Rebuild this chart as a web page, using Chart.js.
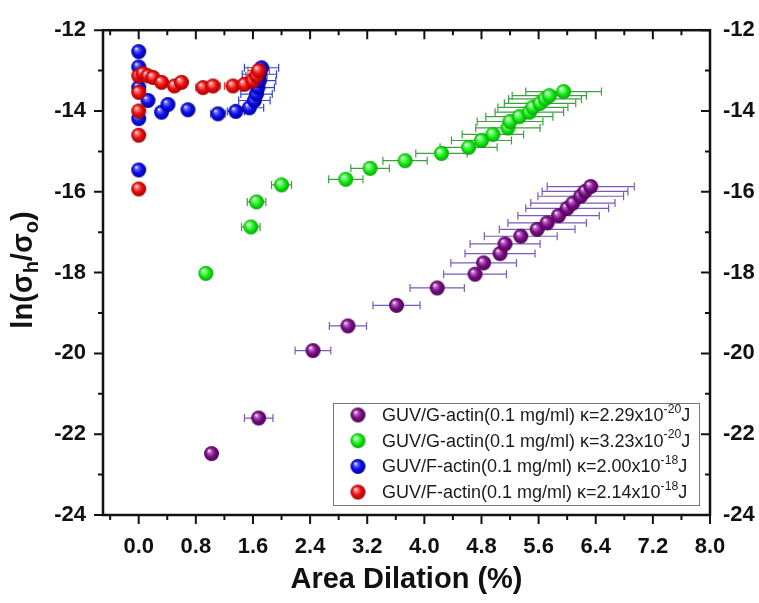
<!DOCTYPE html>
<html>
<head>
<meta charset="utf-8">
<script src="https://cdn.jsdelivr.net/npm/chart.js@4.4.1/dist/chart.umd.min.js"></script>
<style>
  html, body { margin: 0; padding: 0; background: #fff; }
  #wrap { width: 759px; height: 603px; }
</style>
</head>
<body>
<div id="wrap"><canvas id="chart" width="759" height="603"></canvas></div>
<script>
// GUV / G-actin, kappa = 2.29e-20 J (purple)
const gActinAX   = [1.02, 1.68, 2.44, 2.93, 3.61, 4.18, 4.71, 4.83, 5.06, 5.13, 5.35, 5.58, 5.72, 5.88, 6.00, 6.08, 6.19, 6.25, 6.33];
const gActinAY   = [-22.48, -21.6, -19.93, -19.32, -18.81, -18.38, -18.04, -17.76, -17.53, -17.29, -17.10, -16.93, -16.77, -16.59, -16.41, -16.28, -16.11, -15.99, -15.87];
const gActinAErr = [0, 0.2, 0.25, 0.26, 0.33, 0.38, 0.44, 0.46, 0.49, 0.49, 0.51, 0.53, 0.55, 0.57, 0.58, 0.59, 0.60, 0.60, 0.61];

// GUV / G-actin, kappa = 3.23e-20 J (green)
const gActinBX   = [0.94, 1.57, 1.65, 2.0, 2.9, 3.24, 3.73, 4.24, 4.62, 4.8, 4.96, 5.17, 5.2, 5.33, 5.47, 5.52, 5.62, 5.69, 5.75, 5.95];
const gActinBY   = [-18.02, -16.87, -16.25, -15.83, -15.69, -15.42, -15.23, -15.05, -14.9, -14.73, -14.58, -14.42, -14.26, -14.14, -14.03, -13.91, -13.81, -13.70, -13.62, -13.52];
const gActinBErr = [0, 0.13, 0.13, 0.14, 0.24, 0.27, 0.31, 0.36, 0.40, 0.42, 0.43, 0.45, 0.46, 0.47, 0.48, 0.49, 0.50, 0.51, 0.52, 0.53];

// GUV / F-actin, kappa = 2.00e-18 J (blue)
const fActinAX   = [0, 0, 0, 0.13, 0, 0, 0.32, 0.41, 0.69, 1.11, 1.36, 1.55, 1.62, 1.65, 1.67, 1.69, 1.69, 1.72];
const fActinAY   = [-12.53, -12.91, -13.42, -13.74, -14.19, -15.46, -14.03, -13.84, -13.97, -14.07, -14.01, -13.92, -13.74, -13.58, -13.42, -13.25, -13.09, -12.93];
const fActinAErr = [0, 0, 0, 0, 0, 0, 0, 0, 0, 0.1, 0.12, 0.2, 0.22, 0.22, 0.23, 0.23, 0.24, 0.24];

// GUV / F-actin, kappa = 2.14e-18 J (red)
const fActinBX   = [0, 0, 0, 0, 0, 0.06, 0.13, 0.2, 0.32, 0.5, 0.6, 0.9, 1.04, 1.32, 1.48, 1.6, 1.65, 1.68];
const fActinBY   = [-15.93, -14.6, -14.0, -13.54, -13.13, -13.07, -13.13, -13.17, -13.29, -13.38, -13.29, -13.42, -13.38, -13.38, -13.34, -13.25, -13.13, -13.0];
const fActinBErr = [0.03, 0.03, 0.03, 0.03, 0.03, 0.05, 0.05, 0.05, 0.05, 0.05, 0.05, 0.1, 0.1, 0.12, 0.12, 0.15, 0.15, 0.15];

const seriesLabels = [
  'GUV/G-actin(0.1 mg/ml) \u03ba=2.29x10^{-20}J',
  'GUV/G-actin(0.1 mg/ml) \u03ba=3.23x10^{-20}J',
  'GUV/F-actin(0.1 mg/ml) \u03ba=2.00x10^{-18}J',
  'GUV/F-actin(0.1 mg/ml) \u03ba=2.14x10^{-18}J'
];

const xTicks = [0.0, 0.8, 1.6, 2.4, 3.2, 4.0, 4.8, 5.6, 6.4, 7.2, 8.0];
const xMinorTicks = [-0.4, 0.4, 1.2, 2.0, 2.8, 3.6, 4.4, 5.2, 6.0, 6.8, 7.6];
const yTicks = [-24, -22, -20, -18, -16, -14, -12];
const yMinorTicks = [-23, -21, -19, -17, -15, -13];

const FONT = '"Liberation Sans", Arial, sans-serif';

// shaded ball used as point style
function sphere(base, light, dark, r) {
  const c = document.createElement('canvas');
  const s = Math.ceil(r * 2 + 2);
  c.width = s; c.height = s;
  const g = c.getContext('2d');
  const cx = s / 2, cy = s / 2;
  const grad = g.createRadialGradient(cx - r * 0.35, cy - r * 0.4, r * 0.05, cx, cy, r);
  grad.addColorStop(0, '#ffffff');
  grad.addColorStop(0.18, light);
  grad.addColorStop(0.55, base);
  grad.addColorStop(1, dark);
  g.fillStyle = grad;
  g.beginPath();
  g.arc(cx, cy, r, 0, Math.PI * 2);
  g.fill();
  return c;
}

const balls = [
  sphere('#80108a', '#c070c8', '#4a0050', 7.5),
  sphere('#18f018', '#90ff90', '#08a008', 7.5),
  sphere('#1010f0', '#7070ff', '#00009a', 7.5),
  sphere('#f01010', '#ff8080', '#a00000', 7.5)
];
const barColors = ['#7a5cb8', '#3f9f3f', '#3344cc', '#e04848'];

function points(xs, ys) {
  return xs.map((x, i) => ({ x: x, y: ys[i] }));
}

const errs = [gActinAErr, gActinBErr, fActinAErr, fActinBErr];

// horizontal error bars, drawn beneath the balls
const errorBars = {
  id: 'errorBars',
  beforeDatasetsDraw(chart) {
    const { ctx, scales: { x, y } } = chart;
    ctx.save();
    ctx.lineWidth = 1.2;
    chart.data.datasets.forEach((ds, di) => {
      ctx.strokeStyle = barColors[di];
      ds.data.forEach((p, i) => {
        const e = errs[di][i];
        if (!e) return;
        const x0 = x.getPixelForValue(p.x - e);
        const x1 = x.getPixelForValue(p.x + e);
        const py = y.getPixelForValue(p.y);
        ctx.beginPath();
        ctx.moveTo(x0, py); ctx.lineTo(x1, py);
        ctx.moveTo(x0, py - 4); ctx.lineTo(x0, py + 4);
        ctx.moveTo(x1, py - 4); ctx.lineTo(x1, py + 4);
        ctx.stroke();
      });
    });
    ctx.restore();
  }
};

// box frame with major/minor ticks on all four sides
const frame = {
  id: 'frame',
  afterDraw(chart) {
    const { ctx, chartArea: a, scales: { x, y } } = chart;
    ctx.save();
    ctx.strokeStyle = '#111';
    ctx.lineWidth = 2;
    ctx.beginPath();
    xTicks.concat(xMinorTicks).forEach((v) => {
      const len = xTicks.includes(v) ? 9 : 5;
      const px = x.getPixelForValue(v);
      ctx.moveTo(px, a.bottom); ctx.lineTo(px, a.bottom + len);
      ctx.moveTo(px, a.top); ctx.lineTo(px, a.top + len);
    });
    yTicks.concat(yMinorTicks).forEach((v) => {
      const len = yTicks.includes(v) ? 9 : 5;
      const py = y.getPixelForValue(v);
      ctx.moveTo(a.left, py); ctx.lineTo(a.left - len, py);
      ctx.moveTo(a.right, py); ctx.lineTo(a.right - len, py);
    });
    ctx.stroke();
    ctx.lineWidth = 2.5;
    ctx.strokeRect(a.left, a.top, a.right - a.left, a.bottom - a.top);
    ctx.restore();
  }
};

// text with ^{...} superscripts
function drawRich(ctx, str, x, y, size) {
  const parts = str.split(/\^\{([^}]*)\}/);
  let cx = x;
  parts.forEach((t, i) => {
    if (!t) return;
    const sup = i % 2 === 1;
    ctx.font = (sup ? size * 0.68 : size) + 'px ' + FONT;
    ctx.fillText(t, cx, sup ? y - size * 0.38 : y);
    cx += ctx.measureText(t).width;
  });
}

const legendBox = {
  id: 'legendBox',
  afterDraw(chart) {
    const { ctx } = chart;
    const left = 333, top = 403, right = 699, bottom = 505;
    ctx.save();
    ctx.fillStyle = '#fff';
    ctx.fillRect(left, top, right - left, bottom - top);
    ctx.strokeStyle = '#777';
    ctx.lineWidth = 1;
    ctx.strokeRect(left + 0.5, top + 0.5, right - left, bottom - top);
    ctx.textBaseline = 'middle';
    ctx.fillStyle = '#1a1a1a';
    chart.data.datasets.forEach((ds, i) => {
      const ry = 415 + i * 25.7;
      ctx.drawImage(balls[i], 358 - balls[i].width / 2, ry - balls[i].height / 2);
      drawRich(ctx, ds.label, 382, ry + 1, 18);
    });
    ctx.restore();
  }
};

// rotated y title with subscripts
const yTitle = {
  id: 'yTitle',
  afterDraw(chart) {
    const { ctx } = chart;
    const size = 29, sub = 20;
    const pieces = [['ln(\u03c3', false], ['h', true], ['/\u03c3', false], ['o', true], [')', false]];
    ctx.save();
    let w = 0;
    pieces.forEach(([t, s]) => {
      ctx.font = 'bold ' + (s ? sub : size) + 'px ' + FONT;
      w += ctx.measureText(t).width;
    });
    ctx.translate(32, 270);
    ctx.rotate(-Math.PI / 2);
    ctx.fillStyle = '#111';
    ctx.textBaseline = 'alphabetic';
    let cx = -w / 2;
    pieces.forEach(([t, s]) => {
      ctx.font = 'bold ' + (s ? sub : size) + 'px ' + FONT;
      ctx.fillText(t, cx, s ? 6 : 0);
      cx += ctx.measureText(t).width;
    });
    ctx.restore();
  }
};

const tickFont = { family: FONT, size: 22, weight: 'bold' };

new Chart(document.getElementById('chart'), {
  type: 'scatter',
  data: {
    datasets: [
      { label: seriesLabels[0], data: points(gActinAX, gActinAY), pointStyle: balls[0], order: 4 },
      { label: seriesLabels[1], data: points(gActinBX, gActinBY), pointStyle: balls[1], order: 3 },
      { label: seriesLabels[2], data: points(fActinAX, fActinAY), pointStyle: balls[2], order: 2 },
      { label: seriesLabels[3], data: points(fActinBX, fActinBY), pointStyle: balls[3], order: 1 }
    ]
  },
  options: {
    responsive: false,
    animation: false,
    devicePixelRatio: 1,
    layout: { padding: { top: 26, left: 0, right: 0, bottom: 0 } },
    plugins: { legend: { display: false }, tooltip: { enabled: false } },
    scales: {
      x: {
        type: 'linear', position: 'bottom', min: -0.5, max: 8.0,
        grid: { display: false, drawTicks: false },
        border: { display: false },
        afterBuildTicks: (s) => { s.ticks = xTicks.map((v) => ({ value: v })); },
        afterFit: (s) => { s.height = 88; },
        ticks: { font: tickFont, color: '#111', padding: 19, maxRotation: 0, callback: (v) => Number(v).toFixed(1) },
        title: { display: true, text: 'Area Dilation (%)', font: { family: FONT, size: 29, weight: 'bold' }, color: '#111', padding: { top: 0, bottom: 6 } }
      },
      y: {
        type: 'linear', position: 'left', min: -24, max: -12,
        grid: { display: false, drawTicks: false },
        border: { display: false },
        afterBuildTicks: (s) => { s.ticks = yTicks.map((v) => ({ value: v })); },
        afterFit: (s) => { s.width = 103; },
        ticks: { font: tickFont, color: '#111', padding: 17 }
      },
      y2: {
        type: 'linear', position: 'right', min: -24, max: -12,
        grid: { display: false, drawTicks: false },
        border: { display: false },
        afterBuildTicks: (s) => { s.ticks = yTicks.map((v) => ({ value: v })); },
        afterFit: (s) => { s.width = 49; },
        ticks: { font: tickFont, color: '#111', padding: 13 }
      }
    }
  },
  plugins: [errorBars, frame, legendBox, yTitle]
});
</script>
</body>
</html>
